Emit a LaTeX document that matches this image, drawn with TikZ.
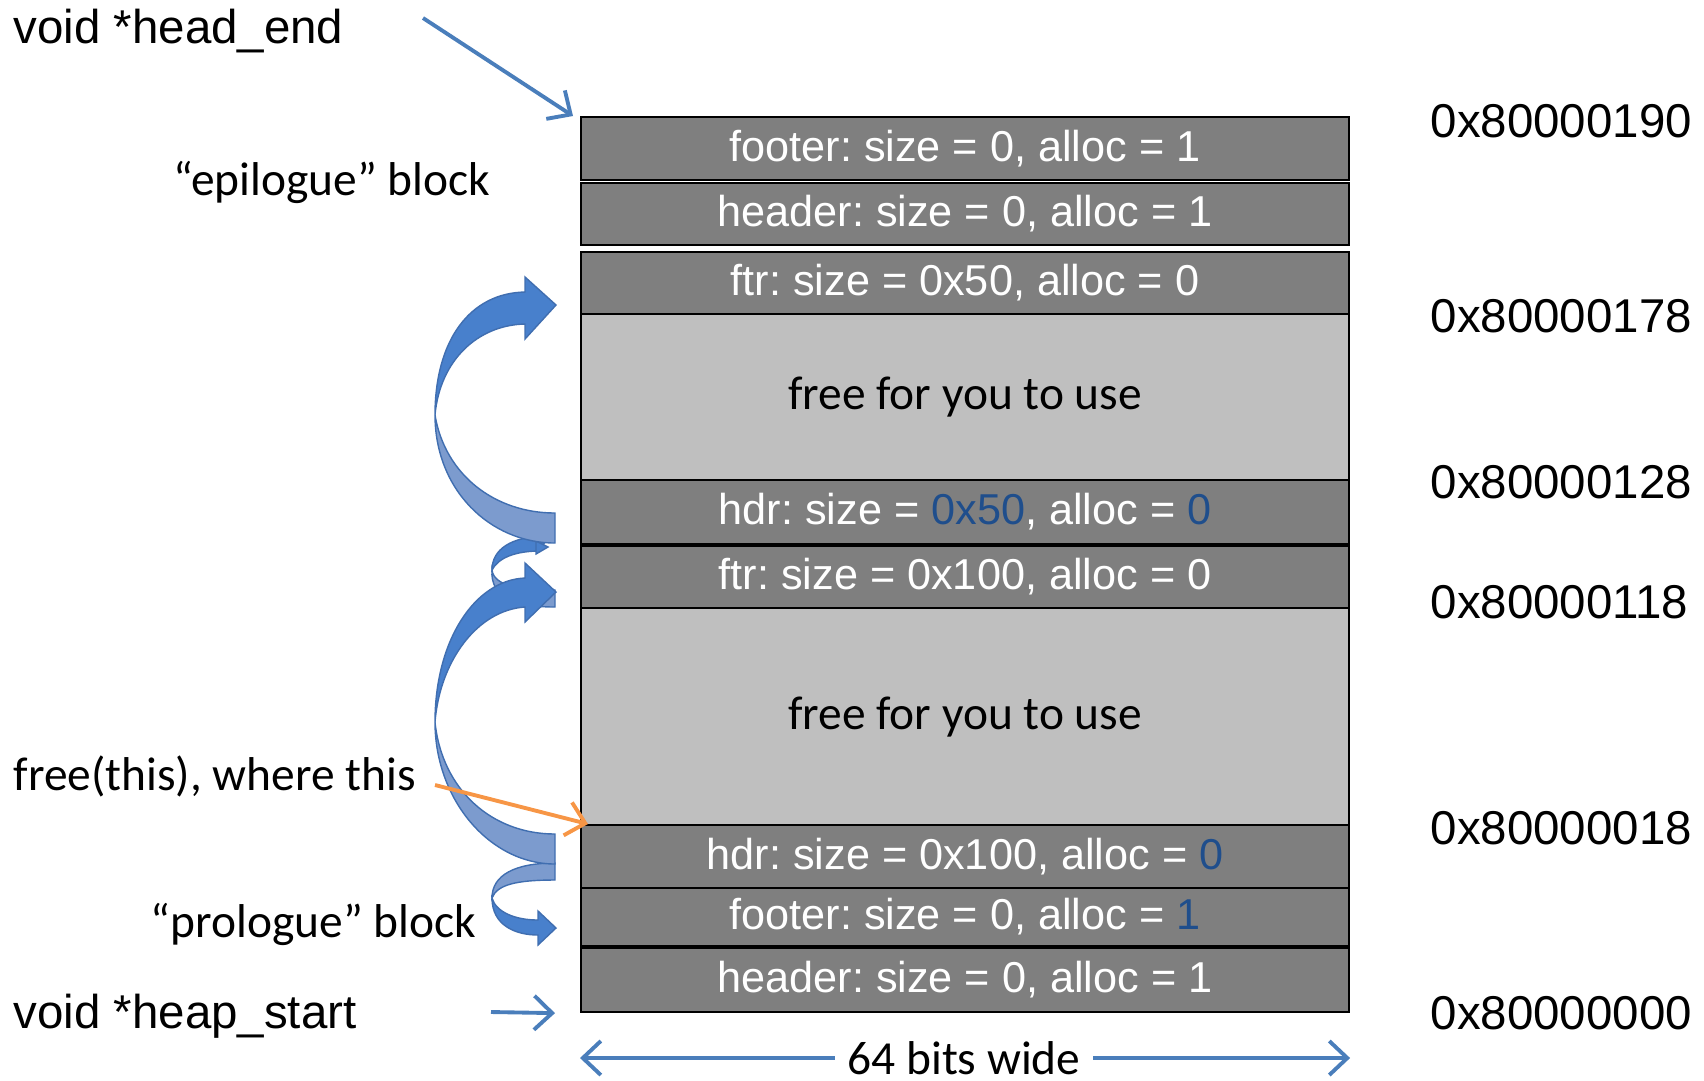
\documentclass[tikz,border=0pt]{standalone}
\usepackage{fontspec}
\setmainfont{Carlito}
\newfontfamily\arialfont{Liberation Sans}
\usepackage{xcolor}
\usetikzlibrary{arrows.meta}
\frenchspacing

\definecolor{linkblue}{RGB}{74,126,187}
\definecolor{ribfront}{RGB}{72,128,204}
\definecolor{ribback}{RGB}{124,155,206}
\definecolor{ribedge}{RGB}{64,110,176}
\definecolor{usedgray}{RGB}{127,127,127}
\definecolor{freegray}{RGB}{191,191,191}
\definecolor{valblue}{RGB}{31,78,140}
\definecolor{ptrorange}{RGB}{247,150,70}

\newcommand{\lblfont}{\fontsize{13.5pt}{16pt}\selectfont}
\newcommand{\addrfont}{\arialfont\fontsize{13.5pt}{16pt}\selectfont}
\newcommand{\cellfont}{\arialfont\fontsize{12.3pt}{14pt}\selectfont}

\begin{document}
\begin{tikzpicture}[x=0.1mm, y=-0.1mm,
    used/.style={draw=black, line width=0.6pt, fill=usedgray, text=white, font=\cellfont,
      minimum width=76.8mm, minimum height=#1*0.1mm, inner sep=0pt, anchor=north west},
    spare/.style={used=#1, fill=freegray, text=black, font=\lblfont},
    addr/.style={anchor=base west, font=\addrfont, inner sep=0pt},
    ptr/.style={line width=1.1pt, draw=linkblue, -{Straight Barb[length=1.8mm, width=3.4mm]}},
    front/.style={fill=ribfront, draw=ribedge, line width=0.4pt},
    back/.style={fill=ribback, draw=ribedge, line width=0.4pt}]
  \useasboundingbox (0,0) rectangle (1704,1080);

  \node[used=63] (ftrE) at (580,116) {footer: size = 0, alloc = 1};
  \node[used=62] (hdrE) at (580,182) {header: size = 0, alloc = 1};
  \node[used=62] (ftrA) at (580,251) {ftr: size = 0x50, alloc = 0};
  \node[spare=166] (freeA) at (580,313) {free for you to use};
  \node[used=64] (hdrA) at (580,479) {hdr: size = \textcolor{valblue}{0x50}, alloc = \textcolor{valblue}{0}};
  \node[used=62] (ftrB) at (580,545) {ftr: size = 0x100, alloc = 0};
  \node[spare=217] (freeB) at (580,607) {free for you to use};
  \node[used=63] (hdrB) at (580,824) {hdr: size = 0x100, alloc = \textcolor{valblue}{0}};
  \node[used=58] (ftrP) at (580,887) {footer: size = 0, alloc = \textcolor{valblue}{1}};
  \node[used=64] (hdrP) at (580,947) {header: size = 0, alloc = 1};

  \node[addr] (a190) at (1430,137) {0x80000190};
  \node[addr] (a178) at (1430,332) {0x80000178};
  \node[addr] (a128) at (1430,498) {0x80000128};
  \node[addr] (a118) at (1430,618) {0x80000118};
  \node[addr] (a018) at (1430,844) {0x80000018};
  \node[addr] (a000) at (1430,1029) {0x80000000};

  \node[addr] (headend) at (13,43) {void *head\_end};
  \node[anchor=base east, font=\lblfont, inner sep=0pt] (epi) at (491,195) {“epilogue” block};
  \node[anchor=base west, font=\lblfont, inner sep=0pt] (freethis) at (13,790) {free(this), where this};
  \node[anchor=base east, font=\lblfont, inner sep=0pt] (pro) at (477,937) {“prologue” block};
  \node[addr] (heapstart) at (13,1028) {void *heap\_start};
  \node[font=\lblfont, inner xsep=1.2mm, inner ysep=0pt] (wide) at (964,1058) {64 bits wide};

  \coordinate (hetail) at (423,18);
  \coordinate (hstail) at (491,1012);
  \coordinate (ftail) at (435,785);

  \draw[ptr] (hetail) -- ([xshift=-0.7mm]ftrE.north west);
  \draw[ptr] (hstail) -- ([xshift=-2.5mm]hdrP.south west);
  \draw[ptr] (wide.west) -- (wide.west -| hdrP.south west);
  \draw[ptr] (wide.east) -- (wide.east -| hdrP.south east);

  \draw[back] (555,863) .. controls (515,863) and (492,875) .. (492,898)
    .. controls (497,885) and (515,880) .. (555,880) -- cycle;
  \draw[front] (492,898) .. controls (492,925) and (515,935) .. (538,935) -- (538,945) -- (556,928)
    -- (538,911) -- (538,920) .. controls (515,920) and (496,912) .. (492,898) -- cycle;

  \draw[front] (548,536) .. controls (510,536) and (492,550) .. (492,570)
    .. controls (498,558) and (515,551) .. (540,551) -- cycle;
  \draw[front] (536,541) -- (548,547) -- (536,554) -- cycle;
  \draw[back] (492,570) .. controls (494,586) and (520,590) .. (555,590) -- (555,607)
    .. controls (515,607) and (490,597) .. (492,570) -- cycle;

  \draw[back] (555,513) -- (555,543) .. controls (490,543) and (435,490) .. (435,415)
    .. controls (445,475) and (495,513) .. (555,513) -- cycle;
  \draw[front] (435,415) .. controls (435,340) and (470,293) .. (525,292) -- (525,277) -- (556,305)
    -- (525,339) -- (525,324) .. controls (478,325) and (440,360) .. (435,415) -- cycle;

  \draw[back] (555,834) -- (555,864) .. controls (490,864) and (435,800) .. (435,722)
    .. controls (442,790) and (492,834) .. (555,834) -- cycle;
  \draw[front] (435,722) .. controls (435,640) and (475,580) .. (525,578) -- (525,563) -- (556,592)
    -- (525,622) -- (525,607) .. controls (478,610) and (440,660) .. (435,722) -- cycle;

  \draw[ptr, draw=ptrorange] (ftail) -- ([xshift=0.8mm]hdrB.north west);
\end{tikzpicture}
\end{document}
